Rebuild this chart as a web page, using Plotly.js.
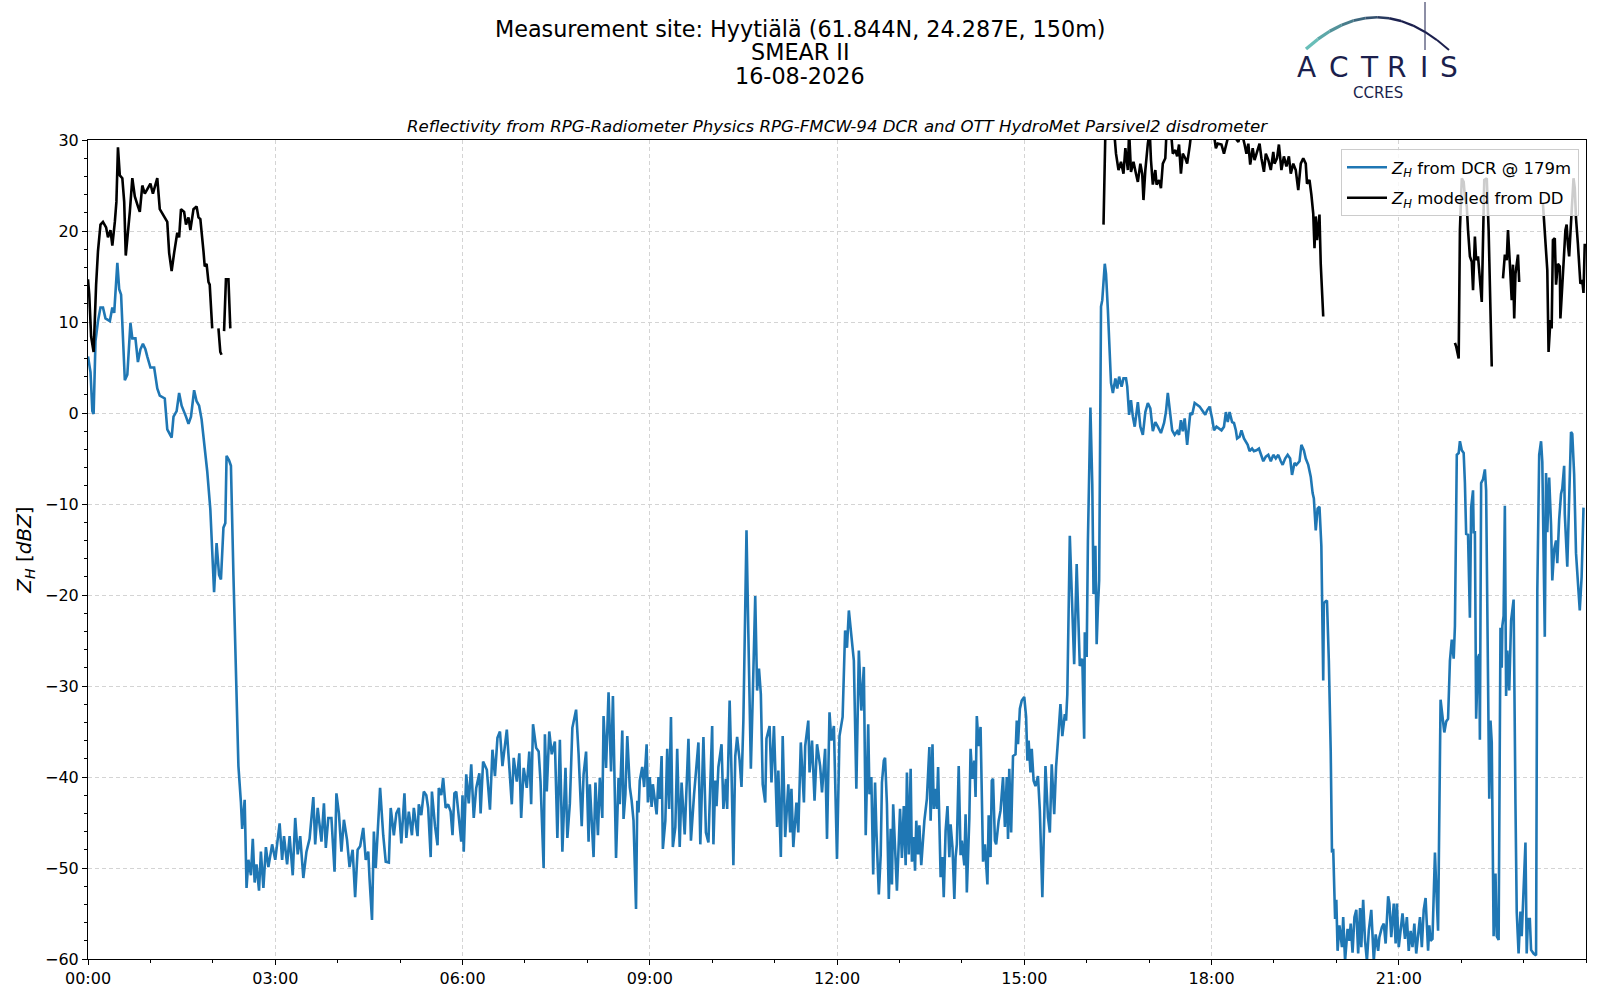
<!DOCTYPE html>
<html>
<head>
<meta charset="utf-8">
<script src="https://cdn.plot.ly/plotly-3.0.1.min.js"></script>
<style>
  html, body { margin: 0; padding: 0; background: #fff; }
  #chart { width: 1600px; height: 1000px; }
</style>
</head>
<body>
<div id="chart"></div>
<script>
// Radar reflectivity at 179 m (hours since 00:00, dBZ)
const dcrHours = [
  0, 0.04, 0.07, 0.09, 0.12, 0.16, 0.2, 0.24, 0.28, 0.35,
  0.39, 0.42, 0.47, 0.5, 0.53, 0.59, 0.63, 0.68, 0.71, 0.76,
  0.8, 0.84, 0.88, 0.92, 0.95, 1.0, 1.06, 1.11, 1.15, 1.23,
  1.27, 1.34, 1.37, 1.42, 1.46, 1.5, 1.57, 1.61, 1.65, 1.7,
  1.74, 1.78, 1.82, 1.86, 1.89, 1.91, 1.96, 2.0, 2.02, 2.06,
  2.1, 2.13, 2.17, 2.2, 2.22, 2.26, 2.29, 2.33, 2.37, 2.41,
  2.45, 2.47, 2.51, 2.54, 2.57, 2.61, 2.64, 2.67, 2.7, 2.74,
  2.77, 2.81, 2.85, 2.89, 2.95, 3.0, 3.07, 3.11, 3.14, 3.19,
  3.23, 3.28, 3.32, 3.36, 3.4, 3.45, 3.5, 3.55, 3.61, 3.64,
  3.68, 3.71, 3.74, 3.78, 3.81, 3.85, 3.9, 3.95, 3.98, 4.02,
  4.06, 4.1, 4.15, 4.19, 4.24, 4.28, 4.32, 4.36, 4.41, 4.45,
  4.49, 4.51, 4.55, 4.58, 4.61, 4.68, 4.73, 4.77, 4.82, 4.85,
  4.9, 4.94, 4.98, 5.02, 5.07, 5.1, 5.14, 5.19, 5.22, 5.28,
  5.3, 5.34, 5.38, 5.42, 5.45, 5.49, 5.51, 5.56, 5.6, 5.62,
  5.66, 5.69, 5.73, 5.77, 5.81, 5.84, 5.87, 5.9, 5.95, 5.98,
  6.0, 6.02, 6.06, 6.1, 6.14, 6.18, 6.22, 6.27, 6.29, 6.33,
  6.39, 6.44, 6.48, 6.52, 6.56, 6.6, 6.64, 6.71, 6.74, 6.79,
  6.82, 6.87, 6.91, 6.94, 6.98, 7.03, 7.07, 7.1, 7.13, 7.18,
  7.22, 7.25, 7.3, 7.32, 7.35, 7.39, 7.43, 7.48, 7.52, 7.56,
  7.6, 7.65, 7.68, 7.72, 7.76, 7.82, 7.86, 7.91, 7.94, 7.98,
  8.02, 8.04, 8.1, 8.13, 8.17, 8.2, 8.24, 8.26, 8.3, 8.34,
  8.38, 8.41, 8.46, 8.5, 8.52, 8.56, 8.58, 8.61, 8.64, 8.68,
  8.71, 8.74, 8.78, 8.8, 8.82, 8.84, 8.88, 8.91, 8.95, 8.97,
  9.0, 9.03, 9.05, 9.11, 9.14, 9.16, 9.19, 9.21, 9.25, 9.28,
  9.31, 9.34, 9.37, 9.41, 9.44, 9.48, 9.51, 9.56, 9.62, 9.66,
  9.71, 9.75, 9.78, 9.81, 9.86, 9.9, 9.94, 10.0, 10.02, 10.05,
  10.07, 10.1, 10.15, 10.18, 10.22, 10.24, 10.28, 10.31, 10.34, 10.37,
  10.4, 10.44, 10.47, 10.5, 10.53, 10.55, 10.58, 10.62, 10.65, 10.69,
  10.72, 10.75, 10.78, 10.81, 10.85, 10.87, 10.92, 10.95, 10.99, 11.04,
  11.06, 11.1, 11.13, 11.17, 11.22, 11.25, 11.27, 11.3, 11.35, 11.38,
  11.42, 11.47, 11.49, 11.54, 11.56, 11.6, 11.64, 11.68, 11.73, 11.76,
  11.81, 11.84, 11.88, 11.91, 11.95, 12.0, 12.04, 12.09, 12.13, 12.16,
  12.19, 12.23, 12.27, 12.31, 12.35, 12.39, 12.43, 12.46, 12.5, 12.52,
  12.55, 12.58, 12.61, 12.63, 12.67, 12.7, 12.72, 12.75, 12.77, 12.8,
  12.83, 12.86, 12.88, 12.9, 12.93, 12.96, 13.01, 13.04, 13.07, 13.1,
  13.12, 13.15, 13.18, 13.2, 13.23, 13.25, 13.27, 13.3, 13.32, 13.35,
  13.4, 13.44, 13.48, 13.5, 13.53, 13.55, 13.58, 13.6, 13.62, 13.66,
  13.69, 13.71, 13.74, 13.77, 13.8, 13.82, 13.85, 13.88, 13.9, 13.92,
  13.95, 13.98, 14.0, 14.04, 14.06, 14.08, 14.12, 14.14, 14.17, 14.2,
  14.22, 14.24, 14.27, 14.3, 14.34, 14.37, 14.41, 14.43, 14.46, 14.48,
  14.5, 14.53, 14.55, 14.59, 14.62, 14.66, 14.69, 14.72, 14.74, 14.76,
  14.79, 14.82, 14.86, 14.88, 14.9, 14.93, 14.96, 15.0, 15.03, 15.05,
  15.07, 15.1, 15.12, 15.15, 15.18, 15.22, 15.25, 15.29, 15.34, 15.38,
  15.41, 15.44, 15.48, 15.51, 15.54, 15.58, 15.61, 15.65, 15.67, 15.69,
  15.73, 15.76, 15.8, 15.84, 15.87, 15.89, 15.93, 15.96, 15.97, 16.0,
  16.02, 16.06, 16.09, 16.11, 16.14, 16.16, 16.18, 16.2, 16.23, 16.25,
  16.29, 16.31, 16.34, 16.37, 16.39, 16.42, 16.46, 16.49, 16.52, 16.56,
  16.59, 16.63, 16.65, 16.68, 16.71, 16.74, 16.77, 16.82, 16.86, 16.9,
  16.94, 16.98, 17.02, 17.06, 17.1, 17.14, 17.19, 17.24, 17.27, 17.3,
  17.34, 17.37, 17.41, 17.45, 17.48, 17.51, 17.54, 17.57, 17.61, 17.64,
  17.66, 17.69, 17.73, 17.77, 17.81, 17.85, 17.9, 17.93, 17.97, 18.01,
  18.04, 18.08, 18.12, 18.16, 18.2, 18.23, 18.26, 18.29, 18.33, 18.36,
  18.39, 18.41, 18.45, 18.48, 18.52, 18.55, 18.58, 18.61, 18.65, 18.68,
  18.72, 18.76, 18.79, 18.83, 18.87, 18.91, 18.95, 18.99, 19.03, 19.07,
  19.11, 19.14, 19.18, 19.22, 19.26, 19.29, 19.33, 19.36, 19.41, 19.44,
  19.48, 19.51, 19.55, 19.59, 19.62, 19.64, 19.67, 19.7, 19.73, 19.76,
  19.79, 19.8, 19.83, 19.85, 19.88, 19.91, 19.93, 19.95, 19.98, 20.0,
  20.02, 20.05, 20.09, 20.11, 20.14, 20.18, 20.21, 20.23, 20.26, 20.29,
  20.32, 20.35, 20.38, 20.4, 20.43, 20.46, 20.49, 20.52, 20.56, 20.6,
  20.63, 20.67, 20.69, 20.73, 20.76, 20.79, 20.83, 20.85, 20.88, 20.92,
  20.95, 20.97, 21.0, 21.03, 21.06, 21.1, 21.13, 21.16, 21.19, 21.22,
  21.25, 21.28, 21.31, 21.34, 21.37, 21.4, 21.43, 21.47, 21.49, 21.51,
  21.54, 21.57, 21.58, 21.6, 21.63, 21.67, 21.71, 21.73, 21.76, 21.79,
  21.82, 21.85, 21.88, 21.9, 21.93, 21.96, 21.98, 22.01, 22.04, 22.06,
  22.08, 22.11, 22.14, 22.16, 22.19, 22.2, 22.22, 22.24, 22.27, 22.29,
  22.3, 22.32, 22.35, 22.38, 22.4, 22.43, 22.45, 22.47, 22.49, 22.52,
  22.55, 22.57, 22.6, 22.63, 22.65, 22.66, 22.68, 22.7, 22.72, 22.74,
  22.77, 22.8, 22.84, 22.87, 22.89, 22.92, 22.95, 22.97, 23.0, 23.03,
  23.05, 23.07, 23.1, 23.12, 23.16, 23.2, 23.22, 23.25, 23.28, 23.3,
  23.34, 23.36, 23.38, 23.41, 23.44, 23.46, 23.49, 23.52, 23.54, 23.57,
  23.6, 23.62, 23.65, 23.66, 23.7, 23.73, 23.76, 23.78, 23.81, 23.84,
  23.87, 23.9, 23.93, 23.96
];
const dcrZh = [
  6.2, 4.5, 0.2, -0.1, 7.9, 10.1, 11.6, 11.6, 10.4, 10.1,
  11.6, 11, 16.5, 13.6, 13, 3.6, 4.2, 9.9, 8.2, 8.2,
  5.6, 7, 7.6, 7, 6.2, 5, 5, 2.7, 1.9, 1.6,
  -1.8, -2.7, -0.4, 0.2, 2.2, 0.8, -0.4, -1.2, -0.4, 2.5,
  1.3, 0.8, -0.7, -3.2, -5.8, -6.4, -10.6, -16, -19.7, -14.3,
  -17.8, -18.3, -12.6, -12.1, -4.7, -5.2, -5.8, -17.8, -28.6, -38.8,
  -42.8, -45.7, -42.5, -52.2, -49.1, -50.8, -46.8, -51.6, -49.6, -52.5,
  -48.2, -52.2, -47.7, -49.9, -47.4, -49.1, -45.1, -49.1, -46.5, -49.6,
  -46.5, -50.8, -44.5, -48.5, -46.5, -51.1, -48.2, -46.8, -42.2, -47.4,
  -43.4, -45.1, -47.1, -42.9, -47.8, -44.5, -44.5, -50.4, -41.8, -44,
  -48.2, -44.7, -46.9, -49.9, -48, -53.2, -48, -47.6, -45.6, -49.1,
  -48.2, -51.1, -55.7, -46, -50, -41.2, -46.4, -49.3, -49.4, -43.4,
  -46.4, -44, -43.4, -47.3, -41.8, -46.7, -43.8, -46.4, -43.4, -46.5,
  -43, -44.2, -41.6, -42, -43.4, -48.8, -41.6, -45.4, -47.5, -41.2,
  -42, -40.1, -43.4, -43, -43.8, -46.4, -41.8, -41.6, -44.9, -47.1,
  -42, -48.2, -39.7, -42.9, -38.6, -44.5, -41.2, -39.6, -44, -38.3,
  -39.2, -43.6, -37, -39.9, -35.7, -35, -38.8, -34.8, -37.9, -43,
  -37.9, -40.5, -37.4, -44.5, -39, -41.2, -37.2, -43, -34.2, -36.8,
  -37.2, -40.5, -50, -35.3, -41.6, -35, -37.5, -36.1, -46.7, -35.9,
  -48.2, -39, -46.7, -42.9, -34.6, -32.6, -37.5, -45.4, -39.7, -37.2,
  -47.1, -40.8, -48.8, -40.6, -46.4, -40.1, -44.5, -33.3, -39, -30.7,
  -39.4, -31.1, -48.9, -40.1, -43, -34.9, -44.6, -41.9, -35.5, -41.1,
  -42.6, -44.8, -54.5, -42.6, -43.9, -40.4, -38.9, -41.1, -36.4, -42.8,
  -40, -43.3, -40.8, -44.1, -40, -42.4, -37.7, -47.9, -44.8, -36.9,
  -43.5, -33.4, -47.7, -45.5, -36.9, -47.7, -40.6, -46.3, -35.8, -47,
  -41.9, -38, -36.2, -47.4, -35.6, -46.1, -47.2, -34.4, -47.4, -40.4,
  -43.2, -38.9, -36.4, -43.5, -40.2, -43.5, -31.6, -39.5, -49.7, -37.7,
  -35.6, -38.2, -41.1, -33.8, -23.6, -12.9, -24.3, -39.1, -31.2, -20.1,
  -30.5, -28.1, -30.9, -40.8, -42.8, -35.8, -34.4, -40.6, -34.4, -45.5,
  -39.3, -48.8, -35.5, -46.6, -40.8, -46.1, -41.3, -47.7, -42.8, -46.1,
  -36.2, -42.8, -36.6, -33.8, -39.5, -36, -42.6, -36.4, -38.8, -41.7,
  -36.9, -46.8, -32.9, -36, -34.4, -49, -35.5, -33.4, -23.9, -25.8,
  -21.7, -24.3, -27.2, -41.3, -26.1, -32.7, -27.9, -46.4, -34.2, -41.9,
  -40, -50.7, -40.6, -45.7, -52.9, -48.6, -40.6, -38.2, -37.9, -43,
  -53.4, -45.7, -51.8, -43, -47.7, -52.5, -43.5, -48.9, -43.2, -49.7,
  -39.5, -48.5, -39.1, -49.3, -46.6, -50.3, -44.8, -48.5, -45.3, -49.7,
  -44.8, -42.4, -36.7, -44.8, -36.4, -43.5, -41.3, -43.5, -38.9, -51,
  -48.8, -53.2, -45.9, -43.2, -48.8, -45.2, -47.7, -53.4, -48.8, -47.4,
  -38.8, -48.6, -47, -49.7, -44.1, -52.7, -44.6, -36.9, -40.2, -38.2,
  -42.2, -33.3, -36.6, -34.5, -49.3, -47.4, -51.8, -44.2, -48.8, -40.4,
  -40.2, -47, -47.4, -44.8, -43.7, -40, -45.5, -40, -46.8, -39.1,
  -46.1, -37.7, -37.5, -33.8, -36.4, -32.5, -31.6, -31.2, -33.4, -38.2,
  -36, -39.5, -36.9, -40.4, -41, -39.9, -43.7, -53.2, -38.8, -44.4,
  -46.1, -38.6, -44.1, -38.9, -36, -32, -35.5, -33.1, -33.8, -30.9,
  -13.5, -20.3, -27.6, -16.6, -22.1, -27.8, -27, -35.8, -24.1, -26.8,
  -14, 0.6, -7.8, -19.9, -14.6, -25.4, -21.4, -18.4, 11.7, 12.4,
  16.4, 15.3, 11.3, 6.2, 3.3, 2.2, 3.8, 2.7, 4, 2.9,
  3.8, 3.8, 2.9, -0.2, 1.4, -0.4, -1.5, 1.2, -1.5, -2.4,
  0.1, 1.1, 0.5, -2, -1, -1.5, -2.2, -1.1, 0.1, 2.2,
  0, -1.9, -2.4, -2, -2.4, -0.8, -2, -0.6, -3.5, -1.5,
  0, -0.2, 1.1, 0.9, 0.7, 0.3, -0.2, 0.3, 0.7, -0.6,
  -1.9, -1.5, -1.7, -1.9, -1.5, 0.1, -1, 0.1, -1, -1.1,
  -1.9, -2.8, -2.6, -1.9, -2.8, -3.2, -3.5, -4.2, -3.9, -4.2,
  -4.1, -3.9, -4.6, -5.3, -4.8, -4.6, -5.3, -4.6, -5, -4.6,
  -5.3, -5.7, -5, -4.6, -5, -6.8, -5.5, -5.7, -5.3, -3.5,
  -4.1, -5, -5.7, -7, -8.8, -9.4, -12.9, -10.5, -10.3, -14.6,
  -29.4, -20.9, -20.7, -20.6, -27.2, -37.2, -48.3, -47.9, -55.6, -53.5,
  -59.1, -56.3, -58.7, -55.4, -60.2, -56.7, -58, -56.1, -59.3, -55.4,
  -54.6, -59.4, -54.4, -58.7, -53.5, -58, -60.2, -56.9, -54.6, -60.2,
  -57.3, -59.1, -57.6, -56.5, -56.1, -58.3, -53.1, -53.9, -57.6, -53.9,
  -58.3, -53.9, -58.7, -56.9, -55, -57.8, -55.4, -59.1, -56.9, -58.7,
  -56.1, -59.4, -56.9, -55.4, -58.7, -54.6, -53.3, -59.1, -56.3, -58,
  -57.8, -51.7, -48.3, -52, -56.9, -31.5, -34.1, -35.1, -33.9, -33.6,
  -27.2, -24.9, -27, -23.4, -4.6, -4.4, -3.1, -4.1, -4.4, -7.7,
  -13.3, -13.4, -22.5, -10.4, -8.5, -13.1, -13.1, -33.6, -26.9, -26.5,
  -35.9, -7.7, -7.3, -6.2, -8.5, -26.1, -42.4, -33.8, -36.2, -57.5,
  -50.6, -57.5, -57.9, -23.6, -28, -23.4, -22.3, -10.2, -31.1, -26.1,
  -30.5, -22.8, -20.5, -43, -54.8, -59.4, -54.8, -57.5, -52.9, -47.2,
  -59.4, -55.6, -55.6, -59, -59.4, -59.6, -19.6, -4.6, -3.1, -5.4,
  -24.6, -6.6, -13.1, -7.1, -12.3, -18.4, -15, -14, -16.5, -11.7,
  -8.9, -8.3, -5.8, -11.1, -16.9, -10.4, -2.1, -2.3, -6.7, -15.4,
  -18.8, -21.7, -18, -10.4
];

// Reflectivity modeled from the disdrometer (null = no rain, gap)
const ddHours = [
  0, 0.02, 0.05, 0.09, 0.13, 0.16, 0.2, 0.24, 0.29, 0.32,
  0.36, 0.39, 0.43, 0.455, 0.48, 0.51, 0.55, 0.58, 0.605, 0.64,
  0.67, 0.71, 0.75, 0.8, 0.83, 0.87, 0.91, 0.96, 1.0, 1.04,
  1.11, 1.15, 1.23, 1.27, 1.3, 1.34, 1.38, 1.43, 1.46, 1.49,
  1.54, 1.57, 1.61, 1.64, 1.69, 1.74, 1.77, 1.8, 1.85, 1.87,
  1.9, 1.93, 1.95, 1.99, 2.04, 2.09, 2.12, 2.14, 2.16, 2.18,
  2.21, 2.25, 2.28, 2.3, 16.27, 16.3, 16.44, 16.47, 16.51, 16.55,
  16.59, 16.62, 16.66, 16.68, 16.71, 16.75, 16.79, 16.82, 16.86, 16.89,
  16.91, 16.94, 16.98, 17.01, 17.03, 17.06, 17.1, 17.12, 17.16, 17.19,
  17.22, 17.26, 17.28, 17.35, 17.38, 17.42, 17.45, 17.48, 17.51, 17.54,
  17.58, 17.61, 17.65, 17.68, 17.8, 17.95, 18.03, 18.07, 18.1, 18.16,
  18.2, 18.24, 18.29, 18.43, 18.48, 18.53, 18.56, 18.59, 18.62, 18.66,
  18.69, 18.73, 18.77, 18.8, 18.84, 18.87, 18.91, 18.95, 18.99, 19.01,
  19.05, 19.08, 19.12, 19.16, 19.2, 19.24, 19.27, 19.31, 19.35, 19.39,
  19.43, 19.47, 19.51, 19.53, 19.57, 19.6, 19.63, 19.65, 19.67, 19.69,
  19.73, 19.75, 19.79, 19.85, 21.9, 21.92, 21.96, 21.98, 22.01, 22.04,
  22.06, 22.09, 22.11, 22.14, 22.17, 22.19, 22.22, 22.24, 22.27, 22.33,
  22.37, 22.41, 22.44, 22.46, 22.49, 22.55, 22.67, 22.7, 22.73, 22.75,
  22.78, 22.81, 22.83, 22.85, 22.87, 22.89, 22.91, 22.93, 23.0, 23.31,
  23.33, 23.35, 23.38, 23.4, 23.43, 23.45, 23.47, 23.5, 23.52, 23.55,
  23.58, 23.59, 23.61, 23.64, 23.67, 23.69, 23.71, 23.73, 23.75, 23.78,
  23.8, 23.82, 23.84, 23.87, 23.89, 23.91, 23.94, 23.96, 23.98
];
const ddZh = [
  14.7, 13, 8.4, 6.7, 14.1, 17.8, 20.7, 21, 20.4, 19.3,
  20.1, 18.4, 21, 23.2, 29.2, 26.1, 25.8, 23.2, 17.3, 19.8,
  22.1, 25.8, 23.8, 22.7, 22.1, 25, 24.1, 24.7, 25.2, 24.1,
  25.8, 22.4, 21.5, 21, 17.6, 15.6, 17.6, 19.8, 19.3, 22.4,
  22.1, 20.7, 21.5, 20.1, 22.4, 22.7, 21.5, 21.3, 17.8, 16.1,
  16.4, 14.4, 14.1, 9.3, null, 9.3, 6.7, 6.4, null, 9,
  14.7, 14.7, 9.3, null, 20.7, 31, 31, 28.5, 26.7, 27.6,
  26.3, 29.1, 26.7, 31, 26.5, 27.6, 26.3, 25.4, 27.4, 26.3,
  23.4, 26.7, 29.6, 31, 27.8, 25.1, 26.7, 25.1, 25.6, 24.7,
  27.4, 28, 31, 31, 28.5, 28.9, 28.2, 29.5, 26.3, 28.5,
  28, 27.4, 29.3, 31, 32, 32, 31, 29.1, 29.6, 29.5,
  28.5, 29.6, 31, 29.8, 31, 29.5, 28.5, 29.6, 27.3, 29.1,
  27.8, 28.7, 29.6, 28, 26.5, 28.5, 27.8, 26.7, 28.7, 27.4,
  28, 29.5, 26.7, 28.2, 27.1, 28.2, 26.3, 27.4, 26.7, 24.5,
  27.4, 28, 27.4, 25.2, 25.6, 24, 21.9, 18.1, 21.6, 19,
  21.8, 16.4, 10.6, null, 7.7, 7.3, 6, 20.1, 25.8, 25.4,
  23.8, 22.7, 20.1, 17.2, 16.6, 13.5, 19.4, 16.8, 17.2, 12.2,
  25.6, 25.8, 20.1, 12.8, 5.1, null, 14.8, 17.4, 16.8, 20.1,
  16.4, 12.4, 16.3, 10.4, 15.3, 16.8, 17.4, 14.4, null, 23,
  21, 19.2, 15.7, 6.7, 10.2, 9.3, 19, 19.2, 14.1, 16.4,
  16.1, 10.4, 13.5, 16.4, 20.1, 20.7, 18.5, 17.2, 19.7, 22.9,
  25.8, 24.7, 21.4, 18.6, 15.7, 14.2, 14.6, 13.2, 18.6
];

const xTickVals = [0, 3, 6, 9, 12, 15, 18, 21];
const xTickText = ['00:00', '03:00', '06:00', '09:00', '12:00', '15:00', '18:00', '21:00'];
const titleLines = ['Measurement site: Hyytiälä (61.844N, 24.287E, 150m)', 'SMEAR II', '16-08-2026'];
const subtitle = 'Reflectivity from RPG-Radiometer Physics RPG-FMCW-94 DCR and OTT HydroMet Parsivel2 disdrometer';

// figure geometry (pixels) used to place the text around the axes
const W = 1600, H = 1000;
const M = { l: 88, r: 14, t: 140, b: 41 };
const plotW = W - M.l - M.r, plotH = H - M.t - M.b;
const px = x => (x - M.l) / plotW;
const py = y => (H - M.b - y) / plotH;

const FONT = 'DejaVu Sans, sans-serif';
const NAVY = '#1b1f4d';

const traces = [
    {
        x: dcrHours, y: dcrZh,
        type: 'scatter', mode: 'lines',
        name: '<i>Z</i><sub><i>H</i></sub> from DCR @ 179m',
        legendgroup: 'dcr',
        line: { color: '#1f77b4', width: 2.6 },
        hoverinfo: 'skip'
    },
    {
        x: ddHours, y: ddZh,
        type: 'scatter', mode: 'lines',
        name: '<i>Z</i><sub><i>H</i></sub> modeled from DD',
        legendgroup: 'dd',
        connectgaps: false,
        line: { color: '#000000', width: 2.6 },
        hoverinfo: 'skip'
    }
];

const annotations = titleLines.map((t, i) => ({
    text: t, xref: 'paper', yref: 'paper',
    x: px(W / 2), y: py(28.5 + i * 23.5),
    xanchor: 'center', yanchor: 'middle', showarrow: false,
    font: { family: FONT, size: 22.3, color: '#000' }
}));

annotations.push({
    text: '<i>' + subtitle + '</i>', xref: 'paper', yref: 'paper',
    x: 0.5, y: py(126), xanchor: 'center', yanchor: 'middle', showarrow: false,
    font: { family: FONT, size: 16.6, color: '#000' }
});

// ACTRIS / CCRES logo
const logoLetters = ['A', 'C', 'T', 'R', 'I', 'S'];
const logoX = [1306, 1339, 1369, 1396, 1424, 1449];
logoLetters.forEach((c, i) => annotations.push({
    text: c, xref: 'paper', yref: 'paper', x: px(logoX[i]), y: py(67),
    xanchor: 'center', yanchor: 'middle', showarrow: false,
    font: { family: FONT, size: 28, color: NAVY }
}));
annotations.push({
    text: 'CCRES', xref: 'paper', yref: 'paper', x: px(1378), y: py(93),
    xanchor: 'center', yanchor: 'middle', showarrow: false,
    font: { family: FONT, size: 15, color: NAVY }
});

const shapes = [{
    type: 'line', xref: 'paper', yref: 'paper',
    x0: px(1425), x1: px(1425), y0: py(2), y1: py(50),
    line: { color: NAVY, width: 1 }
}];
// logo arc: quadratic curve split into segments fading teal -> navy
const arcP0 = [1306, 49], arcC = [1377, -15], arcP2 = [1449, 50];
const teal = [104, 190, 184], navy = [27, 31, 77];
const nSeg = 12;
const arcPt = s => [
    (1 - s) * (1 - s) * arcP0[0] + 2 * s * (1 - s) * arcC[0] + s * s * arcP2[0],
    (1 - s) * (1 - s) * arcP0[1] + 2 * s * (1 - s) * arcC[1] + s * s * arcP2[1]
];
for (let i = 0; i < nSeg; i++) {
    const a = arcPt(i / nSeg), b = arcPt((i + 1) / nSeg);
    const f = Math.min(1, i / (nSeg * 0.6));
    const col = teal.map((v, k) => Math.round(v + (navy[k] - v) * f));
    shapes.push({
        type: 'line', xref: 'paper', yref: 'paper',
        x0: px(a[0]), y0: py(a[1]), x1: px(b[0]), y1: py(b[1]),
        line: { color: 'rgb(' + col.join(',') + ')', width: 3.4 - 1.6 * i / nSeg }
    });
}

const gridStyle = { showgrid: true, gridcolor: '#d4d4d4', gridwidth: 1, griddash: '4px,3px' };

const layout = {
    width: W, height: H,
    margin: M,
    paper_bgcolor: '#ffffff',
    plot_bgcolor: '#ffffff',
    font: { family: FONT, size: 16, color: '#000' },
    showlegend: true,
    legend: {
        x: px(1579), y: py(149), xanchor: 'right', yanchor: 'top',
        bgcolor: 'rgba(255,255,255,0.8)', bordercolor: '#cccccc', borderwidth: 1,
        font: { family: FONT, size: 16.5, color: '#000' },
        itemwidth: 40,
        tracegroupgap: 6
    },
    xaxis: {
        range: [0, 24],
        tickmode: 'array', tickvals: xTickVals, ticktext: xTickText,
        ticks: 'outside', ticklen: 5, tickwidth: 1, tickcolor: '#000',
        minor: { tickmode: 'linear', tick0: 0, dtick: 1, ticks: 'outside', ticklen: 3, tickcolor: '#000', showgrid: false },
        showline: true, linecolor: '#000', linewidth: 1, mirror: true,
        zeroline: false,
        tickfont: { size: 16 },
        ...gridStyle
    },
    yaxis: {
        range: [-60, 30],
        tickmode: 'linear', tick0: 0, dtick: 10,
        ticks: 'outside', ticklen: 5, tickwidth: 1, tickcolor: '#000',
        minor: { tickmode: 'linear', tick0: 0, dtick: 2, ticks: 'outside', ticklen: 3, tickcolor: '#000', showgrid: false },
        showline: true, linecolor: '#000', linewidth: 1, mirror: true,
        zeroline: false,
        tickfont: { size: 16 },
        title: { text: '<i>Z</i><sub><i>H</i></sub> [<i>dBZ</i>]', font: { size: 20 }, standoff: 8 },
        ...gridStyle
    },
    annotations: annotations,
    shapes: shapes
};

Plotly.newPlot('chart', traces, layout, { displayModeBar: false, staticPlot: true });
</script>
</body>
</html>
